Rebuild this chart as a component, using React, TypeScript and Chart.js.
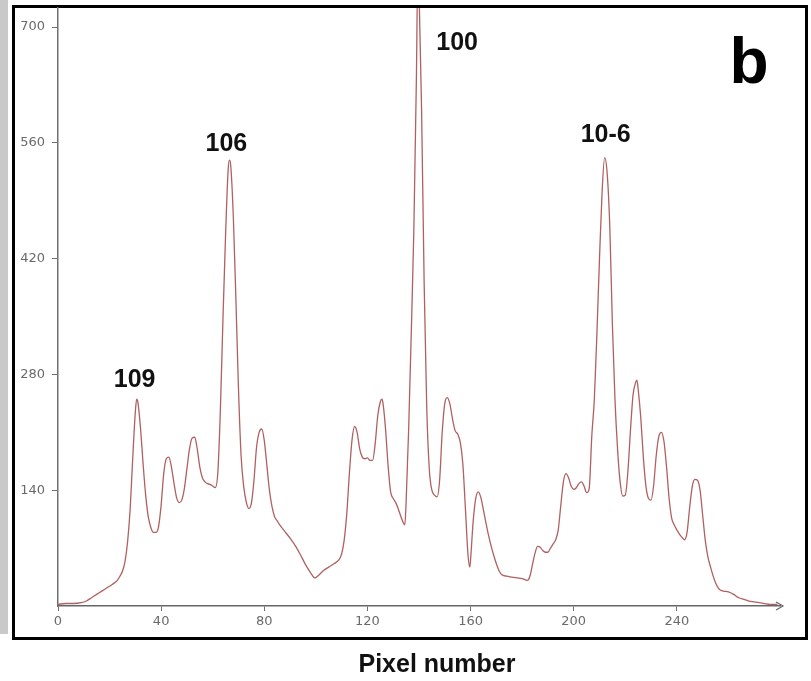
import { useEffect, useRef } from "react";
import { Chart, registerables } from "chart.js";

Chart.register(...registerables);

// Pixel positions along the profile
const pixelNumber = [
  0, 3, 6, 9, 11, 13, 15, 17, 19, 21, 23, 24, 25, 26, 27, 28, 29, 30, 30.5, 31,
  32, 33, 34, 35, 36, 37, 38, 39, 40, 41, 42, 43, 44, 45, 46, 47, 48, 49, 50, 51,
  52, 53, 54, 55, 56, 57, 58, 59, 60, 61, 62, 63, 64, 65, 66, 66.5, 67, 68, 69, 70,
  71, 72, 73, 74, 75, 76, 77, 78, 79, 80, 81, 82, 83, 84, 85, 86, 88, 90, 92, 94,
  96, 98, 99.6, 101, 103, 105, 107, 109, 110, 111, 112, 113, 114, 115, 116, 117, 118, 119, 120, 121,
  122, 123, 124, 125, 125.6, 126, 127, 128, 129, 130, 131, 132, 133, 134, 134.5, 135, 136, 137, 138, 139,
  139.5, 140, 141, 142, 143, 144, 145, 146, 147, 148, 149, 150, 151, 152, 153, 154, 155, 156, 157, 158,
  159, 159.7, 160, 161, 162, 163, 164, 165, 166, 167, 168, 169, 170, 171, 172, 174, 176, 178, 180, 182,
  183, 184, 185, 186, 187, 188, 189, 190, 191, 192, 193, 194, 195, 196, 197, 198, 199, 200, 201, 202,
  203, 204, 205, 206, 207, 208, 209, 210, 211, 212, 213, 214, 215, 216, 217, 218, 219, 220, 221, 222,
  223, 224, 224.5, 225, 226, 227, 228, 229, 230, 231, 232, 233, 234, 235, 236, 237, 238, 239, 240, 241,
  242, 243, 244, 245, 246, 247, 248, 249, 250, 251, 252, 253, 254, 255, 256, 257, 258, 260, 262, 264,
  266, 268, 270, 272, 274, 276, 279,
];

// Intensity
const intensity = [
  2, 3, 3, 4, 6, 10, 14, 18, 22, 26, 31, 36, 42, 54, 78, 118, 180, 235, 250, 246,
  215, 172, 134, 108, 95, 89, 89, 96, 122, 160, 178, 180, 168, 148, 131, 125, 128, 142, 166, 190,
  203, 204, 190, 168, 155, 150, 148, 147, 145, 143, 162, 240, 350, 450, 528, 539, 532, 470, 370, 262,
  182, 145, 126, 118, 124, 152, 192, 210, 214, 200, 170, 140, 120, 108, 103, 98, 90, 82, 73, 62,
  50, 40, 34, 37, 43, 47, 51, 56, 63, 80, 112, 160, 200, 217, 210, 190, 180, 178, 179, 176,
  176, 196, 230, 247, 250, 246, 215, 170, 138, 130, 125, 117, 108, 100, 98, 125, 215, 330, 455, 640,
  760, 745, 600, 390, 240, 165, 140, 134, 132, 152, 210, 245, 252, 244, 226, 212, 208, 198, 172, 118,
  62, 47, 56, 102, 130, 138, 131, 116, 100, 85, 72, 61, 51, 43, 38, 36, 35, 34, 33, 31,
  36, 50, 64, 72, 71, 67, 65, 65, 70, 75, 80, 92, 122, 150, 160, 155, 145, 141, 143, 148,
  150, 145, 137, 142, 205, 250, 330, 420, 500, 542, 522, 458, 340, 250, 190, 150, 133, 134, 162, 212,
  255, 270, 273, 262, 228, 180, 145, 130, 128, 146, 182, 205, 210, 199, 168, 130, 106, 98, 92, 87,
  83, 80, 90, 120, 145, 153, 152, 140, 110, 80, 60, 48, 37, 28, 22, 19, 18, 17, 14, 10,
  8, 6, 5, 4, 3, 2, 2,
];

// Peak labels (Miller indices) and their anchor in data units
const peakLabelText = ["109", "106", "100", "10-6"];
const peakLabelX = [29.7, 65.3, 154.8, 212.4];
const peakLabelY = [265, 550, 672, 561];

const xTitle = "Pixel number";
const panelLetter = "b";

export default function App() {
  const canvasRef = useRef<HTMLCanvasElement | null>(null);

  useEffect(() => {
    const canvas = canvasRef.current;
    if (!canvas) return;

    const decor = {
      id: "decor",
      beforeDraw(chart: any) {
        const ctx = chart.ctx;
        ctx.save();
        ctx.fillStyle = "#ffffff";
        ctx.fillRect(0, 0, chart.width, chart.height);
        // grey strip at left
        ctx.fillStyle = "#c9c9c9";
        ctx.fillRect(0, 0, 8, 634);
        // black frame
        ctx.strokeStyle = "#000000";
        ctx.lineWidth = 3;
        ctx.strokeRect(13.5, 6.5, 793, 632);
        ctx.restore();
      },
      afterDraw(chart: any) {
        const ctx = chart.ctx;
        const xs = chart.scales.x;
        const ys = chart.scales.y;
        ctx.save();
        // arrow head at end of x axis
        const ax = xs.right + 3;
        const ay = ys.bottom;
        ctx.strokeStyle = "#666666";
        ctx.lineWidth = 1.2;
        ctx.beginPath();
        ctx.moveTo(ax - 7, ay - 4);
        ctx.lineTo(ax, ay);
        ctx.lineTo(ax - 7, ay + 4);
        ctx.stroke();

        // peak labels
        ctx.fillStyle = "#111111";
        ctx.textAlign = "center";
        ctx.textBaseline = "alphabetic";
        ctx.font = "bold 25px 'Liberation Sans', Arial, sans-serif";
        for (let i = 0; i < peakLabelText.length; i++) {
          ctx.fillText(
            peakLabelText[i],
            xs.getPixelForValue(peakLabelX[i]),
            ys.getPixelForValue(peakLabelY[i])
          );
        }
        // panel letter
        ctx.font = "bold 64px 'Liberation Sans', Arial, sans-serif";
        ctx.fillStyle = "#000000";
        ctx.fillText(panelLetter, 749, 83);
        // x title
        ctx.font = "bold 25px 'Liberation Sans', Arial, sans-serif";
        ctx.fillStyle = "#111111";
        ctx.fillText(xTitle, 437, 672);
        ctx.restore();
      },
    };

    const chart = new Chart(canvas, {
      type: "line",
      data: {
        datasets: [
          {
            label: "Intensity",
            data: pixelNumber.map((p, i) => ({ x: p, y: intensity[i] })),
            borderColor: "#b06060",
            borderWidth: 1.3,
            pointRadius: 0,
            fill: false,
            cubicInterpolationMode: "monotone",
          },
        ],
      },
      options: {
        responsive: false,
        animation: false,
        layout: { padding: { top: 8, right: 31, left: 0, bottom: 0 } },
        plugins: {
          legend: { display: false },
          tooltip: { enabled: false },
        },
        scales: {
          x: {
            type: "linear",
            min: 0,
            max: 280,
            afterFit: (s: any) => {
              s.height = 75;
              s.paddingLeft = 0;
              s.paddingRight = 0;
            },
            afterBuildTicks: (s: any) => {
              s.ticks = s.ticks.filter((t: any) => t.value <= 240);
            },
            ticks: {
              stepSize: 40,
              includeBounds: false,
              color: "#6a6a6a",
              font: { family: "'DejaVu Sans', sans-serif", size: 13 },
              padding: 3,
              maxRotation: 0,
            },
            grid: {
              display: true,
              drawOnChartArea: false,
              drawTicks: true,
              tickLength: 5,
              color: "#707070",
            },
            border: { display: true, color: "#666666", width: 1.5 },
          },
          y: {
            type: "linear",
            min: 0,
            max: 723,
            afterFit: (s: any) => {
              s.width = 58;
              s.paddingTop = 0;
              s.paddingBottom = 0;
            },
            afterBuildTicks: (s: any) => {
              s.ticks = s.ticks.filter((t: any) => t.value > 0 && t.value <= 700);
            },
            ticks: {
              stepSize: 140,
              includeBounds: false,
              color: "#6a6a6a",
              font: { family: "'DejaVu Sans', sans-serif", size: 13 },
              padding: 7,
            },
            grid: {
              display: true,
              drawOnChartArea: false,
              drawTicks: true,
              tickLength: 6,
              color: "#707070",
            },
            border: { display: true, color: "#707070", width: 1.5 },
          },
        },
      },
      plugins: [decor],
    });

    return () => chart.destroy();
  }, []);

  return (
    <div style={{ position: "fixed", left: 0, top: 0, width: 811, height: 681, background: "#fff" }}>
      <canvas ref={canvasRef} width={811} height={681} style={{ display: "block", width: 811, height: 681 }} />
    </div>
  );
}
